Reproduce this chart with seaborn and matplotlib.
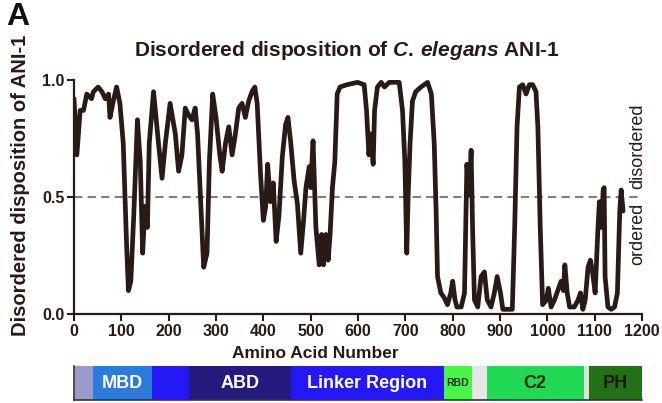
import matplotlib
matplotlib.use('Agg')
import matplotlib.pyplot as plt
import seaborn as sns
import pandas as pd

# disorder trace (residue, score)
residue = [0, 6, 13, 20, 27, 37, 41, 51, 59, 66, 73, 76, 83, 90, 97, 104, 111, 115, 120, 126,
           134, 140, 145, 150, 155, 159, 168, 175, 178, 186, 193, 203, 214, 221, 228, 235, 242, 249,
           256, 261, 267, 274, 281, 286, 293, 300, 308, 313, 320, 327, 334, 341, 348, 355, 362, 369,
           376, 382, 387, 394, 400, 405, 409, 415, 421, 427, 433, 440, 447, 452, 458, 465, 472, 479,
           485, 490, 497, 500, 505, 511, 518, 523, 527, 532, 537, 541, 546, 551, 556, 562, 577, 599,
           613, 618, 623, 627, 632, 635, 641, 649, 656, 666, 687, 694, 699, 703, 706, 710, 715, 722,
           733, 747, 755, 761, 765, 768, 775, 782, 789, 796, 800, 805, 809, 818, 825, 830, 835, 839,
           842, 846, 853, 860, 867, 873, 881, 888, 894, 901, 906, 916, 926, 931, 936, 941, 948, 955,
           962, 969, 976, 980, 985, 990, 998, 1002, 1008, 1015, 1022, 1029, 1034, 1037, 1042, 1047,
           1057, 1065, 1070, 1075, 1080, 1086, 1091, 1096, 1101, 1107, 1110, 1114, 1118, 1120, 1122,
           1128, 1135, 1142, 1148, 1153, 1156, 1160]
score = [0.92, 0.68, 0.87, 0.87, 0.94, 0.92, 0.95, 0.97, 0.95, 0.92, 0.94, 0.84, 0.91, 0.97, 0.90, 0.73, 0.30, 0.10, 0.14, 0.41,
         0.83, 0.65, 0.26, 0.46, 0.37, 0.73, 0.95, 0.80, 0.74, 0.58, 0.73, 0.90, 0.77, 0.61, 0.68, 0.88, 0.85, 0.83,
         0.88, 0.77, 0.51, 0.20, 0.26, 0.65, 0.94, 0.84, 0.68, 0.61, 0.73, 0.80, 0.68, 0.77, 0.88, 0.90, 0.84, 0.91,
         0.95, 0.97, 0.90, 0.60, 0.40, 0.46, 0.64, 0.48, 0.56, 0.31, 0.42, 0.67, 0.81, 0.84, 0.73, 0.57, 0.47, 0.26,
         0.40, 0.54, 0.63, 0.54, 0.74, 0.37, 0.21, 0.34, 0.21, 0.34, 0.23, 0.34, 0.54, 0.65, 0.94, 0.97, 0.98, 0.99,
         0.98, 0.87, 0.68, 0.77, 0.64, 0.87, 0.97, 0.99, 0.97, 0.99, 0.99, 0.87, 0.65, 0.26, 0.51, 0.73, 0.91, 0.95,
         0.97, 0.99, 0.94, 0.73, 0.44, 0.16, 0.09, 0.07, 0.04, 0.09, 0.14, 0.06, 0.03, 0.03, 0.09, 0.64, 0.51, 0.70,
         0.37, 0.06, 0.03, 0.16, 0.18, 0.06, 0.03, 0.09, 0.16, 0.09, 0.02, 0.02, 0.02, 0.37, 0.80, 0.97, 0.98, 0.94,
         0.98, 0.98, 0.95, 0.80, 0.37, 0.04, 0.06, 0.11, 0.03, 0.06, 0.10, 0.14, 0.10, 0.21, 0.09, 0.03,
         0.03, 0.06, 0.09, 0.02, 0.06, 0.20, 0.23, 0.17, 0.09, 0.37, 0.48, 0.37, 0.53, 0.54, 0.16,
         0.03, 0.02, 0.03, 0.09, 0.44, 0.53, 0.44]

# domain map
dom_names = ['', 'MBD', '', 'ABD', 'Linker Region', 'RBD', '', 'C2', '', 'PH']
dom_start = [0, 41, 165, 244, 459, 782, 843, 873, 1079, 1089]
dom_end = [41, 165, 244, 459, 782, 843, 873, 1079, 1089, 1202]
dom_colors = ['#9a9acb', '#2a7bdc', '#2418f5', '#271a7f', '#2418f5', '#46f744', '#e6e6e6', '#22d955', '#e0e0e0', '#247016']
dom_text = ['white', 'white', 'white', 'white', 'white', '#1f3010', '#222', '#1f2a12', '#222', '#1a1a10']

sns.set_style('ticks')
plt.rcParams['font.family'] = ['Liberation Sans', 'DejaVu Sans']
plt.rcParams['font.weight'] = 'bold'
plt.rcParams['mathtext.fontset'] = 'custom'
plt.rcParams['mathtext.it'] = 'Liberation Sans:italic:bold'
plt.rcParams['mathtext.rm'] = 'Liberation Sans:bold'

df = pd.DataFrame({'Residue': residue, 'Score': score})

fig = plt.figure(figsize=(6.62, 4.03), dpi=100)
ax = fig.add_axes([0.1118, 0.2208, 0.858, 0.5807])

ax.axhline(0.5, color='#808080', linestyle='--', linewidth=1.5, dashes=(4, 2.5), zorder=1)
sns.lineplot(data=df, x='Residue', y='Score', color='#2a1a16', linewidth=3.4, estimator=None, ax=ax, zorder=3)

ax.set_xlim(0, 1200)
ax.set_ylim(0, 1.0)
ax.set_xticks(range(0, 1201, 100))
ax.set_yticks([0, 0.5, 1.0])
ax.set_yticklabels(['0.0', '0.5', '1.0'])
ax.tick_params(labelsize=11.5, width=1.5, length=5, color='#2a1a16', labelcolor='#2a1a16', pad=2)
for side in ['left', 'bottom']:
    ax.spines[side].set_linewidth(1.6)
    ax.spines[side].set_color('#2a1a16')
sns.despine(ax=ax)

ax.set_xlabel('Amino Acid Number', fontsize=12.5, fontweight='bold', color='#2a1a16')
ax.xaxis.set_label_coords(0.425, -0.135)
ax.set_ylabel('Disordered disposition of ANI-1', fontsize=14.5, fontweight='bold', color='#2a1a16')
ax.yaxis.set_label_coords(-0.078, 0.55)
ax.set_title(r'Disordered disposition of $\mathit{C.\!\ elegans}$ ANI-1', fontsize=15,
             fontweight='bold', color='#2a1a16', pad=17, x=0.48)

ax.text(0.993, 0.535, 'disordered', rotation=90, ha='center', va='bottom',
        fontsize=13, fontweight='normal', color='#2a1a16', transform=ax.transAxes, clip_on=False)
ax.text(0.993, 0.475, 'ordered', rotation=90, ha='center', va='top',
        fontsize=13, fontweight='normal', color='#2a1a16', transform=ax.transAxes, clip_on=False)
fig.text(0.01, 0.995, 'A', fontsize=23, fontweight='bold', va='top', color='#111')

# domain bar
bx = fig.add_axes([0.1118, 0.0074, 0.858, 0.084])
widths = [e - s for s, e in zip(dom_start, dom_end)]
bx.barh([0] * len(dom_start), widths, left=dom_start, height=1.0, color=dom_colors, edgecolor='none')
for name, s, e, tc in zip(dom_names, dom_start, dom_end, dom_text):
    if name:
        fs = 7.5 if name == 'RBD' else 13
        bx.text((s + e) / 2, 0, name, ha='center', va='center', fontsize=fs,
                fontweight='bold', color=tc)
bx.set_xlim(0, 1202)
bx.set_ylim(-0.5, 0.5)
bx.set_xticks([])
bx.set_yticks([])
for side in ['top', 'right']:
    bx.spines[side].set_visible(False)
bx.spines['left'].set_linewidth(1.2)
bx.spines['bottom'].set_linewidth(1.2)
bx.spines['left'].set_color('#333')
bx.spines['bottom'].set_color('#333')

fig.savefig('out.png', dpi=100)
